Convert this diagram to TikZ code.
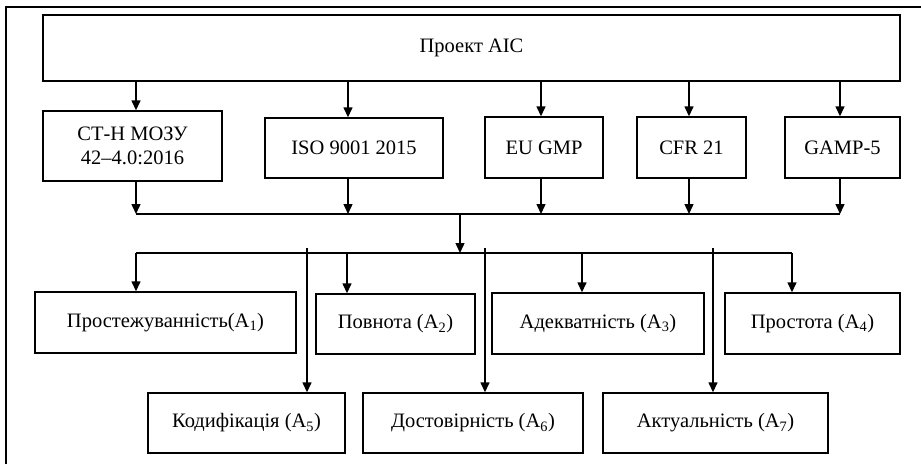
\documentclass[tikz,border=0pt]{standalone}
\usepackage{fontspec}
\setmainfont{Liberation Serif}
\usetikzlibrary{arrows.meta}
\tikzset{
	cell/.style={draw, line width=1.4pt, inner sep=0pt, align=center, font=\fontsize{20.5}{24}\selectfont},
	feed/.style={line width=1.4pt, -{Triangle[length=10pt, width=9pt]}},
	bus/.style={line width=1.4pt}
}
\begin{document}
\begin{tikzpicture}[x=1pt, y=-1pt]
	\useasboundingbox (0, 0) rectangle (921, 464);
	\draw[line width=1.4pt] (6, 464) -- (6, 7) -- (921, 7);
	\node[cell, minimum width=857, minimum height=66] (proj) at (471.5, 48) {Проект АІС};
	\node[cell, minimum width=179, minimum height=70] (stn) at (132.5, 146) {СТ-Н МОЗУ\\42–4.0:2016};
	\node[cell, minimum width=178, minimum height=60] (iso) at (354, 148) {ISO 9001 2015};
	\node[cell, minimum width=118, minimum height=61] (gmp) at (544, 147.5) {EU GMP};
	\node[cell, minimum width=109, minimum height=61] (cfr) at (691.5, 147.5) {CFR 21};
	\node[cell, minimum width=115, minimum height=61] (gamp) at (842.5, 147.5) {GAMP-5};
	\node[cell, minimum width=261, minimum height=61] (a1) at (165.5, 322.5) {Простежуванність(A\textsubscript{1})};
	\node[cell, minimum width=159, minimum height=60] (a2) at (395.5, 324) {Повнота (A\textsubscript{2})};
	\node[cell, minimum width=212, minimum height=61] (a3) at (598, 323.5) {Адекватність (A\textsubscript{3})};
	\node[cell, minimum width=175, minimum height=61] (a4) at (812.5, 323.5) {Простота (A\textsubscript{4})};
	\node[cell, minimum width=197, minimum height=60] (a5) at (246.5, 423) {Кодифікація (A\textsubscript{5})};
	\node[cell, minimum width=220, minimum height=60] (a6) at (473, 423) {Достовірність (A\textsubscript{6})};
	\node[cell, minimum width=225, minimum height=60] (a7) at (715.5, 423) {Актуальність (A\textsubscript{7})};
	% first bus
	\coordinate (u1) at (136, 214);
	\coordinate (u2) at (348, 214);
	\coordinate (u3) at (541, 214);
	\coordinate (u4) at (689, 214);
	\coordinate (u5) at (840, 214);
	\coordinate (mid) at (460, 214);
	% second bus
	\coordinate (v1) at (136, 253);
	\coordinate (v2) at (347, 253);
	\coordinate (v3) at (582, 253);
	\coordinate (v4) at (792, 253);
	\coordinate (v0) at (460, 253);
	\coordinate (w5) at (307, 248);
	\coordinate (w6) at (485, 248);
	\coordinate (w7) at (713, 248);
	\draw[feed] (proj.south -| u1) to (u1 |- stn.north);
	\draw[feed] (proj.south -| u2) to (u2 |- iso.north);
	\draw[feed] (proj.south -| u3) to (u3 |- gmp.north);
	\draw[feed] (proj.south -| u4) to (u4 |- cfr.north);
	\draw[feed] (proj.south -| u5) to (u5 |- gamp.north);
	\draw[feed] (stn.south -| u1) to (u1);
	\draw[feed] (iso.south -| u2) to (u2);
	\draw[feed] (gmp.south -| u3) to (u3);
	\draw[feed] (cfr.south -| u4) to (u4);
	\draw[feed] (gamp.south -| u5) to (u5);
	\draw[bus] (u1) to (u5);
	\draw[feed] (mid) to (v0);
	\draw[bus] (v1) to (v4);
	\draw[feed] (v1) to (v1 |- a1.north);
	\draw[feed] (v2) to (v2 |- a2.north);
	\draw[feed] (v3) to (v3 |- a3.north);
	\draw[feed] (v4) to (v4 |- a4.north);
	\draw[feed] (w5) to (w5 |- a5.north);
	\draw[feed] (w6) to (w6 |- a6.north);
	\draw[feed] (w7) to (w7 |- a7.north);
\end{tikzpicture}
\end{document}
